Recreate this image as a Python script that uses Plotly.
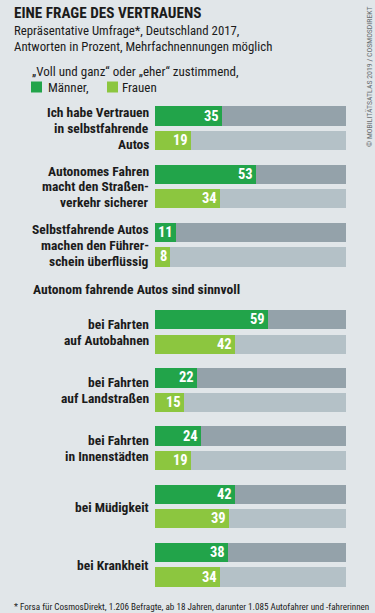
import plotly.graph_objects as go

# ---------------- data ----------------
labels = [
    "Ich habe Vertrauen<br>in selbstfahrende<br>Autos",
    "Autonomes Fahren<br>macht den Straßen-<br>verkehr sicherer",
    "Selbstfahrende Autos<br>machen den Führer-<br>schein überflüssig",
    "bei Fahrten<br>auf Autobahnen",
    "bei Fahrten<br>auf Landstraßen",
    "bei Fahrten<br>in Innenstädten",
    "bei Müdigkeit",
    "bei Krankheit",
]
maenner = [35, 53, 11, 59, 22, 24, 42, 38]
frauen = [19, 34, 8, 42, 15, 19, 39, 34]
# slot of each group (extra half slot before the second block for its header)
slots = [0, 1, 2, 3.5, 4.5, 5.5, 6.5, 7.5]
header_slot = 2.97

title = "EINE FRAGE DES VERTRAUENS"
subtitle_lines = ["Repräsentative Umfrage*, Deutschland 2017,",
                  "Antworten in Prozent, Mehrfachnennungen möglich"]
legend_intro = "„Voll und ganz“ oder „eher“ zustimmend,"
section_header = "Autonom fahrende Autos sind sinnvoll"
footnote = "* Forsa für CosmosDirekt, 1.206 Befragte, ab 18 Jahren, darunter 1.085 Autofahrer und -fahrerinnen"
credit = "© MOBILITÄTSATLAS 2019 / COSMOSDIREKT"

# ---------------- style ----------------
W, H = 375, 613
BG = "#e1e6e9"
DARK_GREEN = "#22a44a"
LIGHT_GREEN = "#8cc63f"
DARK_GREY = "#94a2aa"
LIGHT_GREY = "#b4c1c7"
TXT = "#1b1b1b"
FONT = "Roboto Condensed, Roboto, sans-serif"

unit = 58.2      # pixels per slot
top0 = 116.0     # pixel centre of first male bar
offset = 24.5 / unit  # female bar offset
bw = 19.3 / unit
line_gap = 15.9 / unit  # label line spacing

y_m = slots
y_f = [s + offset for s in slots]

fig = go.Figure()
fig.add_trace(go.Bar(x=[100] * len(slots), y=y_m, orientation="h", width=bw,
                     marker=dict(color=DARK_GREY, line=dict(width=0)), hoverinfo="skip"))
fig.add_trace(go.Bar(x=[100] * len(slots), y=y_f, orientation="h", width=bw,
                     marker=dict(color=LIGHT_GREY, line=dict(width=0)), hoverinfo="skip"))
fig.add_trace(go.Bar(x=maenner, y=y_m, orientation="h", width=bw, name="Männer",
                     marker=dict(color=DARK_GREEN, line=dict(width=0))))
fig.add_trace(go.Bar(x=frauen, y=y_f, orientation="h", width=bw, name="Frauen",
                     marker=dict(color=LIGHT_GREEN, line=dict(width=0))))


def px(x):
    return x / W


def py(y):
    return 1 - y / H


ann = []
for v, y in list(zip(maenner, y_m)) + list(zip(frauen, y_f)):
    ann.append(dict(x=v, y=y, xref="x", yref="y", text=f"<b>{v}</b>", showarrow=False,
                    xanchor="right", yanchor="middle", xshift=-1,
                    font=dict(family=FONT, size=14.5, color="white")))
for lab, s in zip(labels, slots):
    lines = lab.split("<br>")
    centre = s + offset / 2
    n = len(lines)
    for i, ln in enumerate(lines):
        ann.append(dict(x=px(151), y=centre + (i - (n - 1) / 2) * line_gap, xref="paper", yref="y",
                        text=f"<b>{ln}</b>", showarrow=False, xanchor="right", yanchor="middle",
                        font=dict(family=FONT, size=13.5, color=TXT)))

for i, ln in enumerate(subtitle_lines):
    ann.append(dict(x=px(12), y=py(31 + 15.5 * i), text=ln, xanchor="left", yanchor="middle",
                    font=dict(family=FONT, size=12.8, color=TXT)))

ann += [
    dict(x=px(12), y=py(13), text=f"<b>{title}</b>", xanchor="left", yanchor="middle",
         font=dict(family=FONT, size=15.2, color=TXT)),
    dict(x=px(30), y=py(71), text=legend_intro, xanchor="left", yanchor="middle",
         font=dict(family=FONT, size=13, color=TXT)),
    dict(x=px(46), y=py(87), text="Männer,", xanchor="left", yanchor="middle",
         font=dict(family=FONT, size=13, color=TXT)),
    dict(x=px(120), y=py(87), text="Frauen", xanchor="left", yanchor="middle",
         font=dict(family=FONT, size=13, color=TXT)),
    dict(x=px(31), y=header_slot, yref="y", text=f"<b>{section_header}</b>", xanchor="left",
         yanchor="middle", font=dict(family=FONT, size=13.6, color=TXT)),
    dict(x=px(12), y=py(606.5), text=footnote, xanchor="left", yanchor="middle",
         font=dict(family=FONT, size=9.1, color=TXT)),
    dict(x=px(369), y=py(77), text=credit, xanchor="center", yanchor="middle", textangle=-90,
         font=dict(family=FONT, size=7.8, color="#666c70")),
]
for a in ann:
    a.setdefault("xref", "paper")
    a.setdefault("yref", "paper")
    a.setdefault("showarrow", False)

shapes = [
    dict(type="rect", xref="paper", yref="paper", x0=px(31), x1=px(42), y0=py(92.5), y1=py(81.5),
         fillcolor=DARK_GREEN, line=dict(width=0)),
    dict(type="rect", xref="paper", yref="paper", x0=px(107), x1=px(118), y0=py(92.5), y1=py(81.5),
         fillcolor=LIGHT_GREEN, line=dict(width=0)),
]

fig.update_layout(
    width=W, height=H,
    margin=dict(l=0, r=0, t=0, b=0),
    paper_bgcolor=BG, plot_bgcolor=BG,
    barmode="overlay", bargap=0, showlegend=False,
    xaxis=dict(range=[0, 100], domain=[155 / W, 346 / W], visible=False, fixedrange=True),
    yaxis=dict(range=[(H - top0) / unit, -top0 / unit], visible=False, fixedrange=True),
    annotations=ann, shapes=shapes,
)

fig.write_html("out.html", config={"displayModeBar": False},
               post_script="document.body.style.margin='0';document.body.style.padding='0';")
